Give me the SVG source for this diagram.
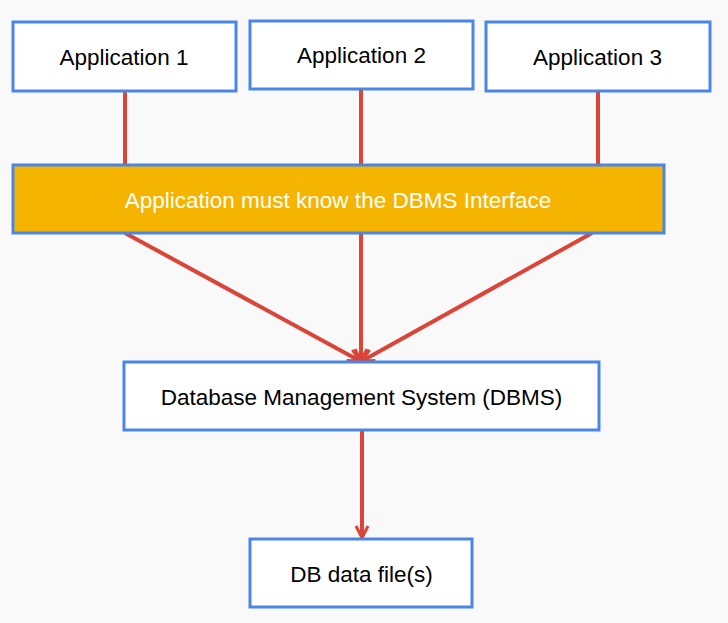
<svg xmlns="http://www.w3.org/2000/svg" width="728" height="623" viewBox="0 0 728 623">
<style>
.box{fill:#ffffff;stroke:#4a86e8;stroke-width:3}
.hl{fill:#f4b400;stroke:#4a86e8;stroke-width:3}
.lbl{font-family:"Liberation Sans",Arial,sans-serif;font-size:22.5px;fill:#000000;text-anchor:middle}
.wl{font-family:"Liberation Sans",Arial,sans-serif;font-size:22.5px;fill:#ffffff;text-anchor:middle}
.ln{stroke:#db4437;stroke-width:4;fill:none}
</style>
<defs>
<marker id="ah" markerUnits="userSpaceOnUse" markerWidth="20" markerHeight="20" refX="14" refY="8" orient="auto">
<path d="M2,2 L14,8 L2,14" fill="none" stroke="#db4437" stroke-width="3"/>
</marker>
</defs>
<rect width="728" height="623" fill="#f9f9f9"/>
<g id="connectors">
<line class="ln" x1="125" y1="91" x2="125" y2="165"/>
<line class="ln" x1="361" y1="89" x2="361" y2="165"/>
<line class="ln" x1="598" y1="91" x2="598" y2="165"/>
<line class="ln" x1="125" y1="233" x2="360" y2="361" marker-end="url(#ah)"/>
<line class="ln" x1="361" y1="233" x2="361" y2="361" marker-end="url(#ah)"/>
<line class="ln" x1="592" y1="233" x2="362" y2="361" marker-end="url(#ah)"/>
<line class="ln" x1="362" y1="430" x2="362" y2="538" marker-end="url(#ah)"/>
</g>
<g id="app1"><rect class="box" x="13" y="22" width="223" height="69"/><text class="lbl" x="124" y="65">Application 1</text></g>
<g id="app2"><rect class="box" x="250" y="21" width="223" height="68"/><text class="lbl" x="361.5" y="63">Application 2</text></g>
<g id="app3"><rect class="box" x="486" y="22" width="224" height="69"/><text class="lbl" x="597.5" y="65">Application 3</text></g>
<g id="iface"><rect class="hl" x="13" y="165" width="651" height="68"/><text class="wl" x="338" y="208">Application must know the DBMS Interface</text></g>
<g id="dbms"><rect class="box" x="124" y="362" width="475" height="68"/><text class="lbl" x="361.5" y="405">Database Management System (DBMS)</text></g>
<g id="dbfile"><rect class="box" x="250" y="539" width="222" height="68"/><text class="lbl" x="361.5" y="582">DB data file(s)</text></g>
</svg>
